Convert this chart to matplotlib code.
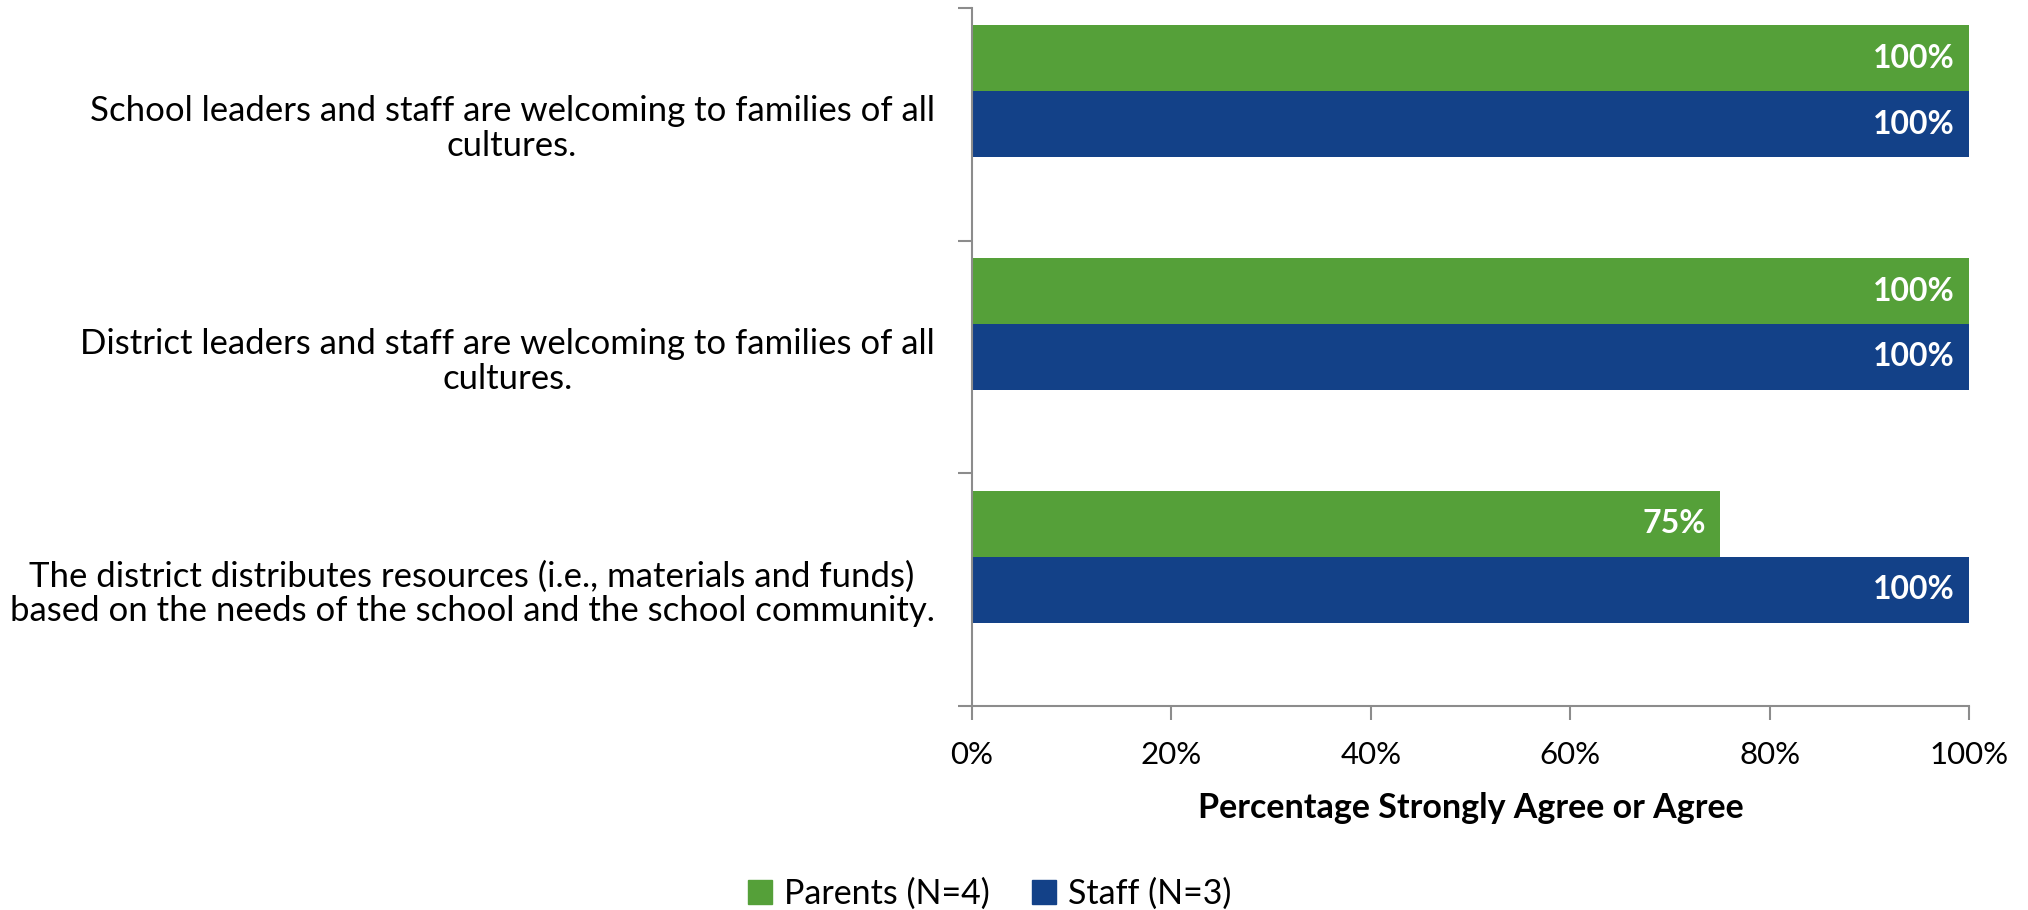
import matplotlib
matplotlib.use("Agg")
import matplotlib.pyplot as plt
import numpy as np
from matplotlib.patches import Patch

categories = [
    "School leaders and staff are welcoming to families of all\ncultures.",
    "District leaders and staff are welcoming to families of all\ncultures.",
    "The district distributes resources (i.e., materials and funds)\nbased on the needs of the school and the school community.",
]
parents = [100, 100, 75]
staff = [100, 100, 100]
series_names = ["Parents (N=4)", "Staff (N=3)"]
x_ticks = [0, 20, 40, 60, 80, 100]
x_label = "Percentage Strongly Agree or Agree"

GREEN = "#55A039"
BLUE = "#134188"
AXC = "#8C8C8C"

plt.rcParams['font.family'] = ['Lato', 'DejaVu Sans']

fig = plt.figure(figsize=(20.28, 9.10), dpi=100)
ax = fig.add_axes([972/2028, 1-706/910, (1969-972)/2028, (706-8)/910])

y = np.arange(len(categories))
h = 51/180
ax.barh(y - h, parents, height=h, color=GREEN, label=series_names[0])
ax.barh(y, staff, height=h, color=BLUE, label=series_names[1])

for yi, v in zip(y - h, parents):
    ax.text(v - 1.4, yi, f"{v}%", ha="right", va="center", color="white",
            fontsize=23, fontweight="bold")
for yi, v in zip(y, staff):
    ax.text(v - 1.4, yi, f"{v}%", ha="right", va="center", color="white",
            fontsize=23, fontweight="bold")

ax.set_xlim(0, 100)
ax.set_ylim(len(categories) - 0.5, -0.5)
ax.set_yticks(y)
ax.set_yticklabels(categories, fontsize=25, ha="right", multialignment="center",
                   linespacing=1.1)
ax.tick_params(axis="y", length=0, pad=27)
ax.set_yticks(np.arange(len(categories) + 1) - 0.5, minor=True)
ax.tick_params(axis="y", which="minor", length=10, color=AXC, width=1.5)
ax.set_xticks(x_ticks)
ax.set_xticklabels([f"{t}%" for t in x_ticks], fontsize=22.5)
ax.tick_params(axis="x", length=10, color=AXC, width=1.5, pad=15)
for s in ["top", "right"]:
    ax.spines[s].set_visible(False)
for s in ["left", "bottom"]:
    ax.spines[s].set_color(AXC)
    ax.spines[s].set_linewidth(1.5)
ax.set_xlabel(x_label, fontsize=24.5, fontweight="bold", labelpad=17)

handles = [Patch(color=GREEN), Patch(color=BLUE)]
fig.legend(handles, series_names, loc="center", bbox_to_anchor=(990/2028, 1-894/910),
           ncol=2, frameon=False, fontsize=24.5, handlelength=0.7, handleheight=0.7,
           columnspacing=1.25, handletextpad=0.35)

fig.savefig("out.png", dpi=100)
